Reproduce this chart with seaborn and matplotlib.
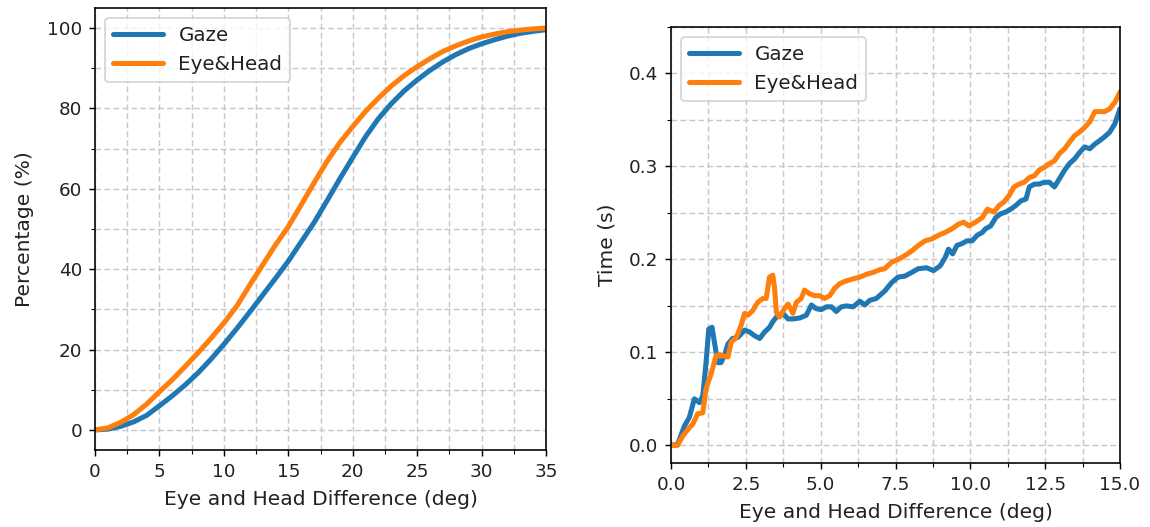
import numpy as np
import pandas as pd
import matplotlib
matplotlib.use("Agg")
import matplotlib.pyplot as plt
from matplotlib.ticker import MultipleLocator
import seaborn as sns

# Cumulative share of samples vs. eye/head angular difference
cdf_deg = list(range(0, 36))
cdf_gaze = [0, 0.2, 0.9, 2.0, 3.6, 6.0, 8.5, 11.2, 14.2, 17.6, 21.3, 25.2, 29.3, 33.5,
            37.7, 42.0, 46.8, 51.6, 57.0, 62.5, 67.8, 73.0, 77.5, 81.2, 84.4, 87.1,
            89.5, 91.6, 93.4, 94.9, 96.1, 97.1, 98.0, 98.7, 99.2, 99.6]
cdf_eyehead = [0, 0.5, 1.9, 3.8, 6.4, 9.5, 12.5, 15.8, 19.2, 22.8, 26.6, 30.8, 36.0,
               41.0, 46.0, 50.6, 56.0, 61.5, 66.8, 71.5, 75.5, 79.3, 82.6, 85.6, 88.2,
               90.4, 92.4, 94.2, 95.6, 96.8, 97.8, 98.5, 99.1, 99.5, 99.8, 100.0]

# Mean time vs. eye/head angular difference
gaze_deg = [0, 0.22, 0.45, 0.61, 0.78, 0.95, 1.06, 1.17, 1.26, 1.37, 1.45, 1.56, 1.67,
            1.79, 1.90, 2.06, 2.23, 2.46, 2.62, 2.79, 2.96, 3.13, 3.29, 3.40, 3.57,
            3.74, 3.91, 4.07, 4.30, 4.52, 4.69, 4.85, 5.02, 5.19, 5.36, 5.52, 5.69,
            5.86, 6.08, 6.31, 6.47, 6.64, 6.86, 7.14, 7.37, 7.59, 7.81, 8.04, 8.26,
            8.54, 8.77, 8.99, 9.16, 9.27, 9.41, 9.55, 9.72, 9.89, 10.06, 10.23, 10.40,
            10.51, 10.68, 10.85, 11.01, 11.18, 11.35, 11.52, 11.69, 11.86, 11.97,
            12.14, 12.30, 12.47, 12.64, 12.81, 12.98, 13.15, 13.31, 13.48, 13.65,
            13.82, 13.99, 14.16, 14.33, 14.49, 14.66, 14.83, 15.0]
gaze_time = [0, 0.001, 0.021, 0.030, 0.050, 0.046, 0.053, 0.089, 0.125, 0.127, 0.111,
             0.089, 0.089, 0.097, 0.109, 0.115, 0.116, 0.124, 0.122, 0.118, 0.115,
             0.122, 0.127, 0.133, 0.140, 0.142, 0.136, 0.136, 0.137, 0.140, 0.151,
             0.147, 0.146, 0.149, 0.149, 0.144, 0.149, 0.150, 0.149, 0.155, 0.151,
             0.156, 0.158, 0.166, 0.175, 0.181, 0.182, 0.186, 0.190, 0.191, 0.188,
             0.193, 0.202, 0.211, 0.206, 0.215, 0.217, 0.220, 0.220, 0.226, 0.229,
             0.233, 0.236, 0.245, 0.249, 0.251, 0.254, 0.258, 0.263, 0.265, 0.278,
             0.281, 0.281, 0.283, 0.283, 0.278, 0.287, 0.296, 0.303, 0.308, 0.315,
             0.321, 0.319, 0.324, 0.328, 0.332, 0.337, 0.346, 0.362]
eyehead_deg = [0, 0.22, 0.39, 0.56, 0.73, 0.89, 1.06, 1.17, 1.34, 1.51, 1.67, 1.90,
               2.01, 2.18, 2.34, 2.46, 2.57, 2.73, 2.90, 3.07, 3.18, 3.29, 3.40, 3.46,
               3.52, 3.63, 3.79, 3.91, 4.07, 4.19, 4.35, 4.46, 4.63, 4.80, 4.97, 5.13,
               5.30, 5.47, 5.64, 5.86, 6.08, 6.31, 6.53, 6.75, 6.98, 7.14, 7.37, 7.59,
               7.81, 8.04, 8.26, 8.49, 8.71, 8.94, 9.16, 9.39, 9.61, 9.78, 9.95, 10.17,
               10.40, 10.57, 10.79, 10.96, 11.13, 11.30, 11.46, 11.63, 11.80, 11.97,
               12.14, 12.30, 12.47, 12.64, 12.81, 12.98, 13.15, 13.31, 13.48, 13.65,
               13.82, 13.99, 14.16, 14.33, 14.49, 14.66, 14.83, 15.0]
eyehead_time = [0, 0, 0.010, 0.017, 0.023, 0.034, 0.035, 0.061, 0.077, 0.097, 0.097,
                0.095, 0.111, 0.116, 0.129, 0.142, 0.140, 0.145, 0.154, 0.158, 0.158,
                0.181, 0.183, 0.169, 0.143, 0.138, 0.147, 0.152, 0.142, 0.154, 0.158,
                0.167, 0.163, 0.161, 0.161, 0.158, 0.161, 0.169, 0.174, 0.177, 0.179,
                0.181, 0.184, 0.186, 0.189, 0.190, 0.197, 0.200, 0.204, 0.209, 0.215,
                0.220, 0.222, 0.226, 0.229, 0.233, 0.238, 0.240, 0.236, 0.240, 0.245,
                0.254, 0.251, 0.258, 0.262, 0.269, 0.278, 0.281, 0.283, 0.288, 0.290,
                0.296, 0.299, 0.303, 0.306, 0.314, 0.319, 0.326, 0.333, 0.337, 0.342,
                0.348, 0.359, 0.359, 0.359, 0.362, 0.369, 0.380]

series_names = ["Gaze", "Eye&Head"]
palette = {"Gaze": "#1f77b4", "Eye&Head": "#ff7f0e"}

sns.set_style("ticks")
plt.rcParams.update({
    "font.family": ["DejaVu Sans"],
    "font.size": 10.4,
    "axes.edgecolor": "black",
    "axes.linewidth": 0.9,
    "text.color": "#222222",
    "axes.labelcolor": "#222222",
    "xtick.color": "black",
    "ytick.color": "black",
    "xtick.labelcolor": "#222222",
    "ytick.labelcolor": "#222222",
    "xtick.labelsize": 10.2,
    "ytick.labelsize": 10.2,
    "axes.labelsize": 11.2,
    "xtick.direction": "out",
    "ytick.direction": "out",
    "xtick.major.size": 3.5,
    "ytick.major.size": 3.5,
    "xtick.minor.size": 2,
    "ytick.minor.size": 2,
    "xtick.minor.visible": True,
    "ytick.minor.visible": True,
})

cdf_df = pd.DataFrame({
    "deg": cdf_deg + cdf_deg,
    "value": cdf_gaze + cdf_eyehead,
    "kind": [series_names[0]] * len(cdf_deg) + [series_names[1]] * len(cdf_deg),
})
time_df = pd.DataFrame({
    "deg": gaze_deg + eyehead_deg,
    "value": gaze_time + eyehead_time,
    "kind": [series_names[0]] * len(gaze_deg) + [series_names[1]] * len(eyehead_deg),
})

fig = plt.figure(figsize=(1150 / 130, 527 / 130), dpi=130)
ax1 = fig.add_axes([0.0826, 0.1461, 0.3922, 0.8387])
ax2 = fig.add_axes([0.5835, 0.1214, 0.3904, 0.8274])

for ax, df in ((ax1, cdf_df), (ax2, time_df)):
    sns.lineplot(data=df, x="deg", y="value", hue="kind", hue_order=series_names,
                 palette=palette, estimator=None, sort=True, linewidth=2.8, ax=ax)
    ax.grid(which="both", linestyle=(0, (4, 2.2)), color="#c8c8c8", linewidth=0.8)
    ax.set_axisbelow(True)
    for side in ("top", "right", "left", "bottom"):
        ax.spines[side].set_visible(True)
        ax.spines[side].set_color("black")
    leg = ax.legend(loc="upper left", handlelength=2.5, fontsize=11,
                    framealpha=0.8, edgecolor="#cccccc", fancybox=True)
    for line in leg.get_lines():
        line.set_linewidth(2.8)
    ax.set_xlabel("Eye and Head Difference (deg)", labelpad=5)

ax1.set_xlim(0, 35)
ax1.set_ylim(-5, 105)
ax1.xaxis.set_major_locator(MultipleLocator(5))
ax1.xaxis.set_minor_locator(MultipleLocator(2.5))
ax1.yaxis.set_major_locator(MultipleLocator(20))
ax1.yaxis.set_minor_locator(MultipleLocator(10))
ax1.set_ylabel("Percentage (%)", labelpad=7)

ax2.set_xlim(0, 15)
ax2.set_ylim(-0.019, 0.45)
ax2.xaxis.set_major_locator(MultipleLocator(2.5))
ax2.xaxis.set_minor_locator(MultipleLocator(1.25))
ax2.yaxis.set_major_locator(MultipleLocator(0.1))
ax2.yaxis.set_minor_locator(MultipleLocator(0.05))
ax2.set_ylabel("Time (s)", labelpad=7)

fig.savefig("out.png", dpi=130)
